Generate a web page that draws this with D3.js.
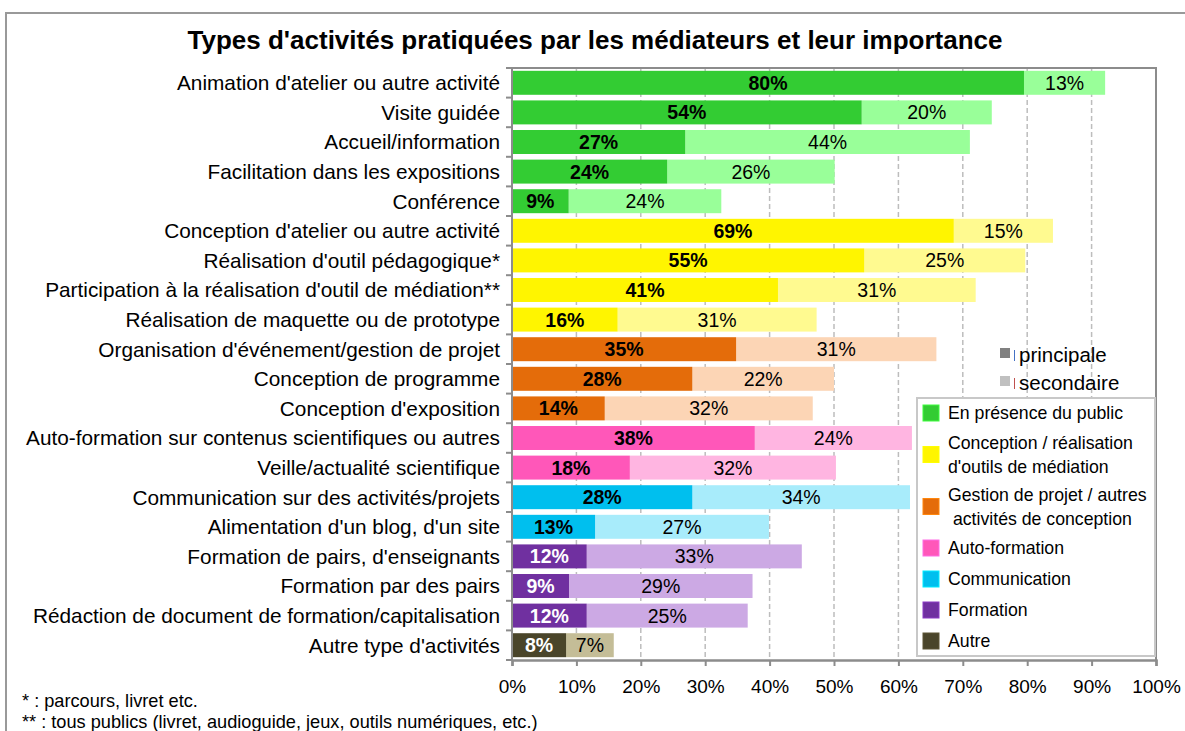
<!DOCTYPE html>
<html><head><meta charset="utf-8">
<script src="https://cdn.jsdelivr.net/npm/d3@7"></script>
<style>body{margin:0;background:#fff} svg{display:block;font-family:"Liberation Sans",Arial,sans-serif}</style>
</head><body><svg id="c" width="1185" height="731"></svg>
<script>
const categories = [
  "Animation d'atelier ou autre activité",
  "Visite guidée",
  "Accueil/information",
  "Facilitation dans les expositions",
  "Conférence",
  "Conception d'atelier ou autre activité",
  "Réalisation d'outil pédagogique*",
  "Participation à la réalisation d'outil de médiation**",
  "Réalisation de maquette ou de prototype",
  "Organisation d'événement/gestion de projet",
  "Conception de programme",
  "Conception d'exposition",
  "Auto-formation sur contenus scientifiques ou autres",
  "Veille/actualité scientifique",
  "Communication sur des activités/projets",
  "Alimentation d'un blog, d'un site",
  "Formation de pairs, d'enseignants",
  "Formation par des pairs",
  "Rédaction de document de formation/capitalisation",
  "Autre type d'activités"
];
const principale = [79.5, 54.3, 26.9, 24.1, 8.8, 68.6, 54.7, 41.3, 16.4, 34.8, 28.0, 14.4, 37.7, 18.3, 28.0, 12.9, 11.6, 8.85, 11.6, 8.4];
const secondaire = [12.6, 20.2, 44.2, 26.0, 23.7, 15.4, 25.0, 30.7, 30.9, 31.1, 22.0, 32.3, 24.4, 32.0, 33.8, 27.0, 33.4, 28.5, 25.0, 7.4];
const groupOf = [0,0,0,0,0,1,1,1,1,2,2,2,3,3,4,4,5,5,5,6];
const groupNames = [
  ["En présence du public"],
  ["Conception / réalisation", "d'outils de médiation"],
  ["Gestion de projet / autres", " activités de conception"],
  ["Auto-formation"],
  ["Communication"],
  ["Formation"],
  ["Autre"]
];
const primaryColors = ["#33CC33","#FFF500","#E46C0A","#FF57B9","#00BFEE","#7030A0","#4A452A"];
const secondaryColors = ["#99FF99","#FFFA90","#FCD5B5","#FFB5E1","#A8ECFB","#CCA9E4","#C4BD97"];
const whiteLabelGroups = [5,6];
const xTicks = [0,10,20,30,40,50,60,70,80,90,100];
const title = "Types d'activités pratiquées par les médiateurs et leur importance";
const footnotes = ["* : parcours, livret etc.", "** : tous publics (livret, audioguide, jeux, outils numériques, etc.)"];
const importanceLegend = [["principale","#808080","#4472C4"],["secondaire","#C0C0C0","#C0504D"]];

const svg = d3.select("#c");
const L = 512, R = 1156, T = 68, B = 660;
const x = d3.scaleLinear().domain([0,100]).range([L,R]);
const y = d3.scaleBand().domain(categories).range([T,B]).paddingInner(0.19).paddingOuter(0.095);

// outer frame
svg.append("path").attr("d","M6,740 V13 H1190").attr("fill","none").attr("stroke","#999").attr("stroke-width",2);

// title
svg.append("text").attr("x",595).attr("y",40).attr("dy","0.35em").attr("text-anchor","middle")
  .attr("font-size",26).attr("font-weight","bold").attr("fill","#000").text(title);

// gridlines
svg.append("g").selectAll("line").data(xTicks.filter(d=>d>0&&d<100)).join("line")
  .attr("x1",d=>x(d)).attr("x2",d=>x(d)).attr("y1",T).attr("y2",B)
  .attr("stroke","#bdbdbd").attr("stroke-width",1.5).attr("stroke-dasharray","5,3");

// plot frame top & right
svg.append("path").attr("d",`M${L},${T} H${R} V${B}`).attr("fill","none").attr("stroke","#8c8c8c").attr("stroke-width",2);

// bars
const rows = categories.map((c,i)=>({c,i,p:principale[i],s:secondaire[i],g:groupOf[i]}));
const gb = svg.append("g");
gb.selectAll("rect.s").data(rows).join("rect").attr("class","s")
  .attr("x",d=>x(d.p)).attr("y",d=>y(d.c)).attr("width",d=>x(d.p+d.s)-x(d.p)).attr("height",y.bandwidth())
  .attr("fill",d=>secondaryColors[d.g]);
gb.selectAll("rect.p").data(rows).join("rect").attr("class","p")
  .attr("x",x(0)).attr("y",d=>y(d.c)).attr("width",d=>x(d.p)-x(0)).attr("height",y.bandwidth())
  .attr("fill",d=>primaryColors[d.g]);
gb.selectAll("text.p").data(rows).join("text").attr("class","p")
  .attr("x",d=>(x(0)+x(d.p))/2).attr("y",d=>y(d.c)+y.bandwidth()/2).attr("dy","0.36em")
  .attr("text-anchor","middle").attr("font-size",19.5).attr("font-weight","bold")
  .attr("fill",d=>whiteLabelGroups.includes(d.g)?"#fff":"#000").text(d=>Math.round(d.p)+"%");
gb.selectAll("text.s").data(rows).join("text").attr("class","s")
  .attr("x",d=>(x(d.p)+x(d.p+d.s))/2).attr("y",d=>y(d.c)+y.bandwidth()/2).attr("dy","0.36em")
  .attr("text-anchor","middle").attr("font-size",19.5)
  .attr("fill","#000").text(d=>Math.round(d.s)+"%");

// left axis
const ga = svg.append("g");
ga.append("line").attr("x1",L).attr("x2",L).attr("y1",T).attr("y2",B).attr("stroke","#8c8c8c").attr("stroke-width",2);
ga.selectAll("line.t").data(d3.range(21)).join("line").attr("class","t")
  .attr("x1",L-6).attr("x2",L).attr("y1",i=>T+i*(B-T)/20).attr("y2",i=>T+i*(B-T)/20)
  .attr("stroke","#8c8c8c").attr("stroke-width",2);
ga.selectAll("text").data(categories).join("text")
  .attr("x",500).attr("y",d=>y(d)+y.bandwidth()/2).attr("dy","0.36em").attr("text-anchor","end")
  .attr("font-size",20.8).attr("fill","#000").text(d=>d);

// bottom axis
const xb = svg.append("g").attr("transform",`translate(0,${B})`)
  .call(d3.axisBottom(x).tickValues(xTicks).tickFormat(d=>d+"%").tickSize(6).tickPadding(14));
xb.select(".domain").attr("stroke","#8c8c8c").attr("stroke-width",2.5);
xb.selectAll(".tick line").attr("stroke","#8c8c8c").attr("stroke-width",2);
xb.selectAll(".tick text").attr("font-size",19).attr("font-family","Liberation Sans, Arial, sans-serif").attr("fill","#000");

// importance legend
const il = svg.append("g");
importanceLegend.forEach((d,i)=>{
  const cy = 355 + i*28;
  il.append("rect").attr("x",1000).attr("y",cy-7).attr("width",10).attr("height",10).attr("fill",d[1]);
  il.append("line").attr("x1",1014.5).attr("x2",1014.5).attr("y1",cy-5).attr("y2",cy+6).attr("stroke",d[2]).attr("stroke-width",1);
  il.append("text").attr("x",1019).attr("y",cy).attr("dy","0.36em").attr("font-size",20.5).attr("fill","#000").text(d[0]);
});

// group legend
const lg = svg.append("g");
lg.append("rect").attr("x",917).attr("y",398).attr("width",238).attr("height",258)
  .attr("fill","#fff").attr("stroke","#c8c8c8").attr("stroke-width",2);
let cy = 413;
const heights = groupNames.map(n=>n.length===1?31:52);
groupNames.forEach((lines,i)=>{
  if(i>0) cy += (heights[i-1]+heights[i])/2;
  lg.append("rect").attr("x",923).attr("y",cy-8).attr("width",16).attr("height",16)
    .attr("fill",primaryColors[i]).attr("stroke",d3.color(primaryColors[i]).brighter(0.6)).attr("stroke-width",1);
  lines.forEach((t,j)=>{
    lg.append("text").attr("x",948).attr("y",cy + (j-(lines.length-1)/2)*24).attr("dy","0.36em")
      .attr("font-size",17.7).attr("fill","#000").attr("xml:space","preserve").style("white-space","pre").text(t);
  });
});

// footnotes
svg.append("g").selectAll("text").data(footnotes).join("text")
  .attr("x",22).attr("y",(d,i)=>700+i*21).attr("dy","0.36em").attr("font-size",18.2).attr("fill","#000").text(d=>d);
</script></body></html>
